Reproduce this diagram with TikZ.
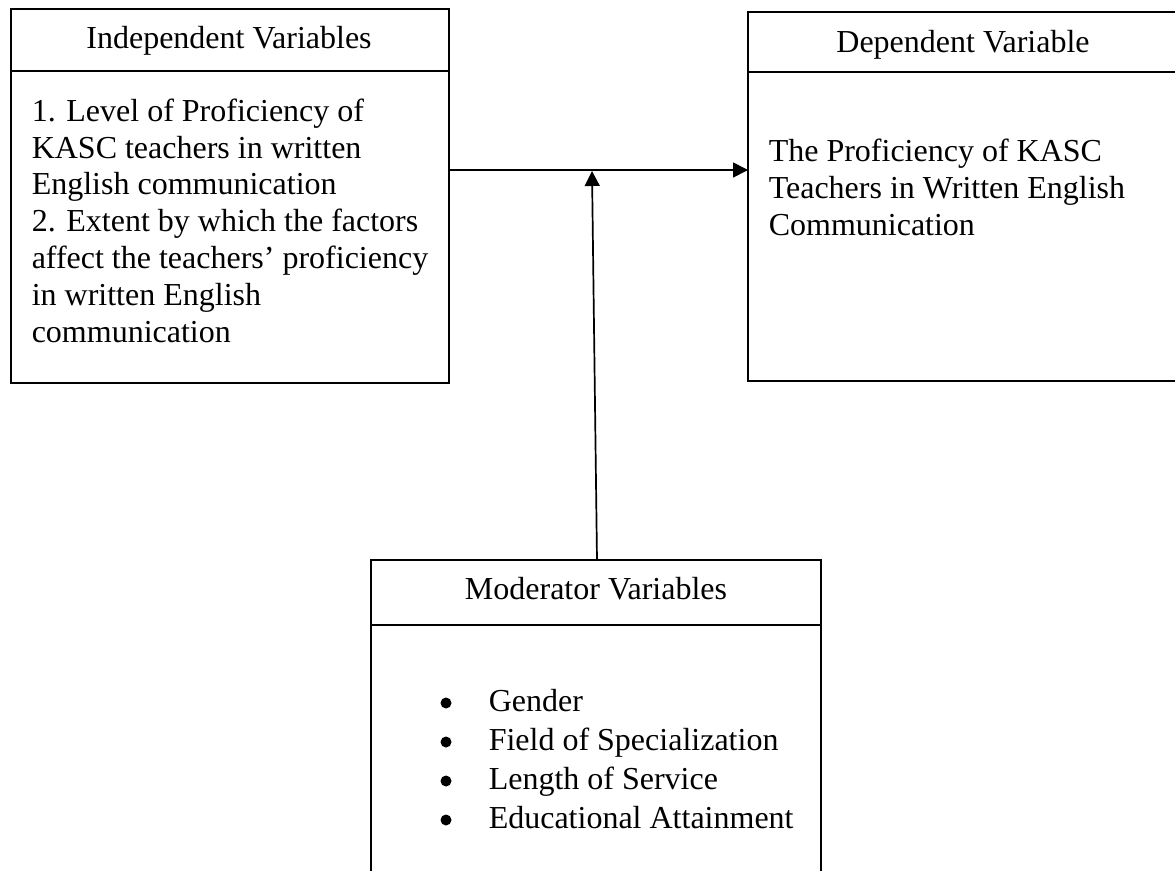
\documentclass[tikz,border=0pt]{standalone}
\usepackage{fontspec}
\setmainfont{Liberation Serif}
\usetikzlibrary{arrows.meta}
\begin{document}
\begin{tikzpicture}[x=1pt,y=-1pt,line width=1.5pt,
  body/.style={font=\fontsize{32}{36.8}\selectfont, align=left, inner sep=0pt, anchor=base west},
  listtext/.style={font=\fontsize{32}{39}\selectfont, align=left, inner sep=0pt, anchor=base west},
  head/.style={font=\fontsize{32}{36.8}\selectfont, inner sep=0pt, anchor=base},
  bul/.style={circle, fill=black, draw=none, inner sep=0pt, minimum size=11pt},
  boxline/.style={line width=1.6pt},
  arr/.style={-{Triangle[length=15pt,width=15pt]}, line width=1.7pt}]
\useasboundingbox (0,0) rectangle (1175,870);
\clip (0,0) rectangle (1175,870);

% Independent variables box
\node[draw, boxline, anchor=north west, inner sep=0pt, minimum width=438pt, minimum height=374pt] (iv) at (10,8) {};
\draw[boxline] (10,71) -- (448,71);
\node[head] (ivhead) at (229,48) {Independent Variables};
% anchored at the baseline of the last line
\node[body] (ivtext) at (31,342) {1. Level of Proficiency of\\KASC teachers in written\\English communication\\2. Extent by which the factors\\affect the teachers’ proficiency\\in written English\\communication};

% Dependent variable box (runs off the right edge)
\draw[boxline] (1185,12) -- (748,12) -- (748,381) -- (1185,381);
\draw[boxline] (748,72) -- (1185,72);
\node[head] (dvhead) at (963,52) {Dependent Variable};
\node[body] (dvtext) at (768,235) {The Proficiency of KASC\\Teachers in Written English\\Communication};

% Moderator variables box (runs off the bottom edge)
\draw[boxline] (371,880) -- (371,560) -- (821,560) -- (821,880);
\draw[boxline] (371,625) -- (821,625);
\node[head] (mvhead) at (596,599) {Moderator Variables};
\node[bul] (b1) at (446,703) {};
\node[bul] (b2) at (446,742) {};
\node[bul] (b3) at (446,781) {};
\node[bul] (b4) at (446,820) {};
\node[listtext] (l1) at (488,711) {Gender};
\node[listtext] (l2) at (488,750) {Field of Specialization};
\node[listtext] (l3) at (488,789) {Length of Service};
\node[listtext] (l4) at (488,828) {Educational Attainment};

% connectors
\coordinate (ivout) at (448,170);
\coordinate (dvin) at (748,170);
\coordinate (mvout) at (597,560);
\coordinate (meet) at (592,171);
\draw[arr] (ivout) -- (dvin);
\draw[arr] (mvout) -- (meet);
\end{tikzpicture}
\end{document}
